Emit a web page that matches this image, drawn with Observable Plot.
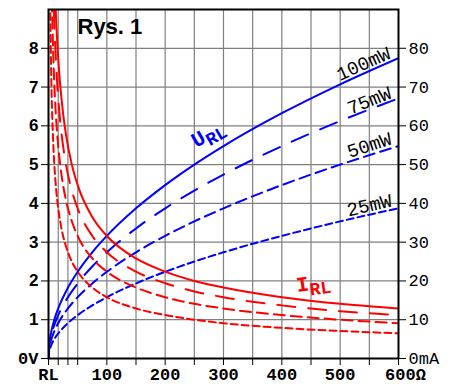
<!DOCTYPE html>
<html><head><meta charset="utf-8">
<script src="https://cdn.jsdelivr.net/npm/d3@7"></script>
<script src="https://cdn.jsdelivr.net/npm/@observablehq/plot@0.6"></script>
<style>body{margin:0;background:#fff} svg{display:block}</style>
</head><body><div id="chart"></div>
<script>
// Load resistance (Ω) for voltage curves
const rU = [0,1,2,5,10,20,30,50,75,100,150,200,250,300,400,500,600];
// Voltage across RL (V) for 100, 75, 50, 25 mW
const u100 = [0,0.316,0.447,0.707,1.0,1.414,1.732,2.236,2.739,3.162,3.873,4.472,5.0,5.477,6.325,7.071,7.746];
const u75  = [0,0.274,0.387,0.612,0.866,1.225,1.5,1.936,2.372,2.739,3.354,3.873,4.330,4.743,5.477,6.124,6.708];
const u50  = [0,0.224,0.316,0.5,0.707,1.0,1.225,1.581,1.936,2.236,2.739,3.162,3.536,3.873,4.472,5.0,5.477];
const u25  = [0,0.158,0.224,0.354,0.5,0.707,0.866,1.118,1.369,1.581,1.936,2.236,2.5,2.739,3.162,3.536,3.873];
// Load resistance (Ω) for current curves
const rI = [2,3,4,5,8,10,12,15,20,25,30,40,50,75,100,150,200,250,300,400,500,600];
// Current through RL (mA)
const i100 = [223.6,182.6,158.1,141.4,111.8,100,91.3,81.6,70.7,63.2,57.7,50,44.7,36.5,31.6,25.8,22.4,20,18.3,15.8,14.1,12.9];
const i75  = [193.6,158.1,136.9,122.5,96.8,86.6,79.1,70.7,61.2,54.8,50,43.3,38.7,31.6,27.4,22.4,19.4,17.3,15.8,13.7,12.2,11.2];
const i50  = [158.1,129.1,111.8,100,79.1,70.7,64.5,57.7,50,44.7,40.8,35.4,31.6,25.8,22.4,18.3,15.8,14.1,12.9,11.2,10,9.1];
const i25  = [111.8,91.3,79.1,70.7,55.9,50,45.6,40.8,35.4,31.6,28.9,25,22.4,18.3,15.8,12.9,11.2,10,9.1,7.9,7.1,6.5];
const powers = ["100mW","75mW","50mW","25mW"];
// tick values
const xTicks = [0,100,200,300,400,500,600];
const xTickLabels = ["RL","100","200","300","400","500","600Ω"];
const xMinor = [16.7,33.3,50,150,250,350,450,550];
const vTicks = [0,1,2,3,4,5,6,7,8];
const vTickLabels = ["0V","1","2","3","4","5","6","7","8"];
const mATicks = [0,10,20,30,40,50,60,70,80];
const mATickLabels = ["0mA","10","20","30","40","50","60","70","80"];
// annotation anchor points (R, V) and rotation
const powerLabelR = [540,550,550,550];
const powerLabelV = [7.6,6.65,5.5,3.95];
const powerLabelRot = [-24,-22,-18,-13];

const dashes = [null,"18,13","11,6","7,4"];
const uSeries = [u100,u75,u50,u25];
const iSeries = [i100,i75,i50,i25];

const MONO = "Liberation Mono";
const SANS = "Liberation Sans";

const marks = [
  Plot.gridX([16.7,33.3,50,100,150,200,250,300,350,400,450,500,550], {stroke:"#808080", strokeOpacity:1, strokeWidth:1.2}),
  Plot.gridY([1,2,3,4,5,6,7,8], {stroke:"#808080", strokeOpacity:1, strokeWidth:1.2}),
];
uSeries.forEach((s,k)=>{
  marks.push(Plot.line(rU.map((r,j)=>({r, v:s[j]})), {x:"r", y:"v", stroke:"#0000ff", strokeWidth:2, strokeDasharray:dashes[k], curve:"monotone-x", clip:true}));
});
iSeries.forEach((s,k)=>{
  marks.push(Plot.line(rI.map((r,j)=>({r, ma:s[j]})), {x:"r", y:d=>d.ma/10, stroke:"#ff0000", strokeWidth:2, strokeDasharray:dashes[k], curve:"monotone-x", clip:true}));
});
marks.push(
  Plot.frame({stroke:"black", strokeWidth:2}),
  Plot.axisY(vTicks, {anchor:"left", label:null, tickSize:7, tickPadding:3, tickFormat:d=>vTickLabels[vTicks.indexOf(d)], fontSize:17, fontWeight:"bold", fontFamily:SANS, stroke:"black"}),
  Plot.axisY(mATicks.map(d=>d/10), {anchor:"right", label:null, tickSize:7, tickPadding:3, tickFormat:d=>mATickLabels[mATicks.indexOf(Math.round(d*10))], fontSize:17, fontFamily:MONO, stroke:"black"}),
  Plot.axisX(xTicks, {anchor:"bottom", label:null, tickSize:7, tickPadding:2, tickFormat:d=>xTickLabels[xTicks.indexOf(d)], fontSize:17, fontWeight:"bold", fontFamily:MONO, stroke:"black"}),
  Plot.axisX(xMinor, {anchor:"bottom", label:null, tickSize:7, tickFormat:()=>"", stroke:"black"}),
  Plot.text(powers.map((p,k)=>({p, r:powerLabelR[k], v:powerLabelV[k], rot:powerLabelRot[k]})), {x:"r", y:"v", text:"p", rotate:"rot", fontSize:19, fontFamily:MONO, fill:"black"}),
  Plot.text(["URL"], {x:273, y:5.8, rotate:-30, fontSize:21, fontWeight:"bold", fontFamily:MONO, fill:"#0000ff"}),
  Plot.text(["IRL"], {x:454, y:1.95, rotate:-8, fontSize:21, fontWeight:"bold", fontFamily:MONO, fill:"#ff0000"}),
  Plot.text(["Rys. 1"], {frameAnchor:"top-left", dx:29, dy:9, lineAnchor:"top", textAnchor:"start", fontSize:22, fontWeight:"bold", fontFamily:SANS, fill:"black"})
);

const chart = Plot.plot({
  width:453, height:389,
  marginLeft:48, marginRight:55, marginTop:9, marginBottom:31,
  x:{domain:[0,600], label:null},
  y:{domain:[0,9], label:null},
  style:{background:"white", color:"black"},
  marks
});
document.getElementById("chart").append(chart);

// subscripts and unit tweaks
const svg = d3.select(chart);
svg.selectAll("text").each(function(){
  const t = this.textContent;
  if (t === "URL" || t === "IRL") {
    const sel = d3.select(this);
    sel.text(null);
    sel.append("tspan").text(t[0]);
    sel.append("tspan").attr("dy","0.3em").attr("font-size","18").text("RL");
  }
  if (t === "600Ω") d3.select(this).attr("dx", "7");
  if (t === "0V") d3.select(this).attr("font-family", MONO);
});
</script>
</body></html>
